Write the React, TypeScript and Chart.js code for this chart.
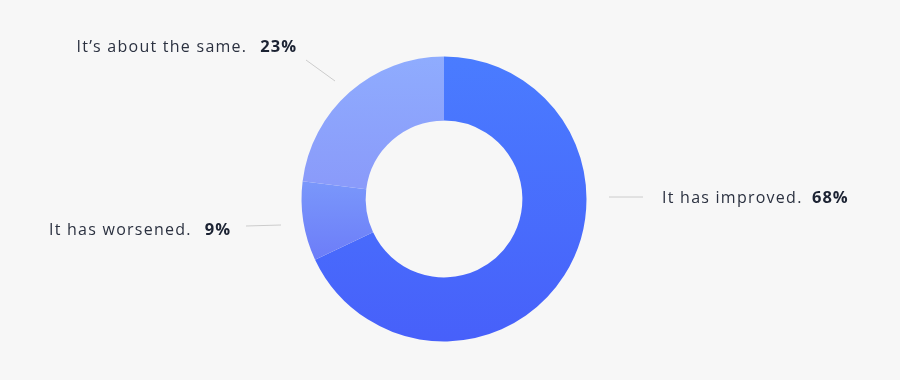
import React, { useEffect, useRef } from "react";
import { Chart, registerables } from "chart.js";

Chart.register(...registerables);

const categories = ["It has improved.", "It has worsened.", "It’s about the same."];
const values = [68, 9, 23];
const percentLabels = ["68%", "9%", "23%"];

// gradient colours per segment: [fractionTop, colorTop, fractionBottom, colorBottom]
const gradientStops: [number, string, number, string][] = [
  [0.0, "#4a7cff", 1.0, "#4760fa"],
  [0.43, "#7a98fb", 0.72, "#6c7cf8"],
  [0.0, "#8facfe", 0.44, "#8a9bfa"],
];

const labelPlugin = {
  id: "outerLabels",
  afterDatasetsDraw(chart: any) {
    const meta = chart.getDatasetMeta(0);
    const arc = meta.data[0];
    if (!arc) return;
    const cx = arc.x;
    const cy = arc.y;
    const ctx = chart.ctx;
    ctx.save();
    ctx.strokeStyle = "#cccccc";
    ctx.lineWidth = 1;
    const lines = [
      [cx + 165, cy - 2, cx + 199, cy - 2],
      [cx - 163, cy + 26, cx - 198, cy + 27],
      [cx - 109, cy - 118, cx - 138, cy - 139],
    ];
    lines.forEach((l) => {
      ctx.beginPath();
      ctx.moveTo(l[0], l[1]);
      ctx.lineTo(l[2], l[3]);
      ctx.stroke();
    });
    ctx.textBaseline = "middle";
    const normal = "16px 'Open Sans'";
    const bold = "bold 16.5px 'Open Sans'";
    const ls = "1.25px";
    const lsBold = "1px";
    // improved (left-aligned on right side)
    ctx.textAlign = "left";
    ctx.font = normal;
    (ctx as any).letterSpacing = ls;
    ctx.fillStyle = "#2b3140";
    ctx.fillText(categories[0], cx + 218, cy - 1);
    ctx.font = bold;
    (ctx as any).letterSpacing = lsBold;
    ctx.fillStyle = "#1c2333";
    ctx.fillText(percentLabels[0], cx + 368, cy - 1);
    // left side labels (right-aligned)
    const leftLabels = [
      { i: 1, right: cx - 213, y: cy + 31 },
      { i: 2, right: cx - 147, y: cy - 152 },
    ];
    leftLabels.forEach(({ i, right, y }) => {
      ctx.textAlign = "right";
      ctx.font = bold;
      (ctx as any).letterSpacing = lsBold;
      ctx.fillStyle = "#1c2333";
      ctx.fillText(percentLabels[i], right, y);
      const pw = ctx.measureText(percentLabels[i]).width;
      ctx.font = normal;
      (ctx as any).letterSpacing = ls;
      ctx.fillStyle = "#2b3140";
      ctx.fillText(categories[i], right - pw - 13, y);
    });
    ctx.restore();
  },
};

export default function App() {
  const ref = useRef<HTMLCanvasElement | null>(null);
  useEffect(() => {
    document.body.style.margin = "0";
    document.body.style.background = "#f7f7f7";
    const canvas = ref.current;
    if (!canvas) return;
    const chart = new Chart(canvas, {
      type: "doughnut",
      data: {
        labels: categories,
        datasets: [
          {
            data: values,
            borderWidth: 0,
            backgroundColor: (c: any) => {
              const chartObj = c.chart;
              const area = chartObj.chartArea;
              const s = gradientStops[c.dataIndex] || gradientStops[0];
              if (!area) return s[1];
              const h = area.bottom - area.top;
              const g = chartObj.ctx.createLinearGradient(
                0,
                area.top + s[0] * h,
                0,
                area.top + s[2] * h
              );
              g.addColorStop(0, s[1]);
              g.addColorStop(1, s[3]);
              return g;
            },
          },
        ],
      },
      options: {
        responsive: false,
        animation: false,
        cutout: "55%",
        layout: { padding: { top: 56.5, bottom: 38.5, left: 0, right: 12 } },
        plugins: {
          legend: { display: false },
          tooltip: { enabled: false },
        },
      },
      plugins: [labelPlugin],
    });
    return () => chart.destroy();
  }, []);
  return (
    <div style={{ width: 900, height: 380, background: "#f7f7f7" }}>
      <canvas ref={ref} width={900} height={380} style={{ display: "block" }} />
    </div>
  );
}
